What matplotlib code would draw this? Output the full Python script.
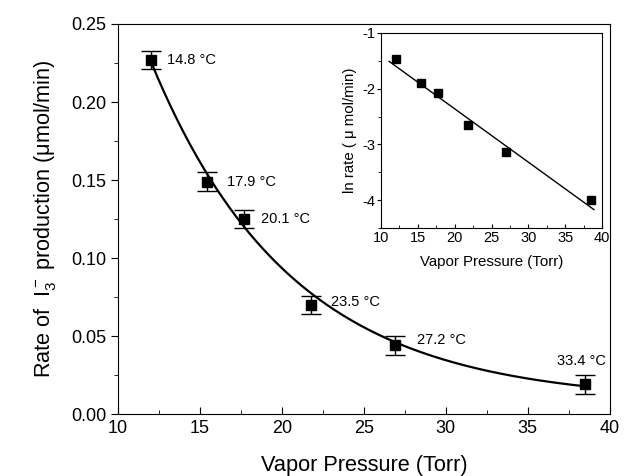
import numpy as np
import matplotlib
matplotlib.use('Agg')
import matplotlib.pyplot as plt

plt.rcParams['font.family'] = ['Liberation Sans', 'DejaVu Sans']
plt.rcParams['mathtext.fontset'] = 'custom'
plt.rcParams['mathtext.rm'] = 'Liberation Sans'
plt.rcParams['mathtext.it'] = 'Liberation Sans'

# data
pressure = [12.0, 15.4, 17.7, 21.8, 26.9, 38.5]
rate = [0.227, 0.149, 0.125, 0.070, 0.044, 0.019]
rate_err = [0.006, 0.006, 0.006, 0.006, 0.006, 0.006]
temps = ['14.8 °C', '17.9 °C', '20.1 °C', '23.5 °C', '27.2 °C', '33.4 °C']
label_offsets = [(12, 0), (15, 0), (12, 0), (14, 2), (16, 4), (-20, 17)]

ln_rate = [-1.47, -1.90, -2.08, -2.66, -3.14, -4.00]

# exponential fit (y = A*exp(-k*x) + c) and linear fit of ln rate
fit_A, fit_k, fit_c = 0.888, 0.117, 0.008
lin_slope, lin_icpt = -0.0957, -0.447

fig = plt.figure(figsize=(6.26, 4.76), dpi=100)
ax = fig.add_axes([0.1885, 0.130, 0.7855, 0.8196])

xs = np.linspace(12.0, 38.5, 200)
ax.plot(xs, fit_A*np.exp(-fit_k*xs) + fit_c, color='black', lw=1.6)
ax.errorbar(pressure, rate, yerr=rate_err, fmt='s', color='black', ms=7,
            capsize=7, elinewidth=1, capthick=1)
for x, y, t, off in zip(pressure, rate, temps, label_offsets):
    ax.annotate(t, (x, y), xytext=off, textcoords='offset points',
                fontsize=10.5, va='center', ha='left')

ax.set_xlim(10, 40)
ax.set_ylim(0, 0.25)
ax.set_xticks(np.arange(10, 41, 5))
ax.set_xticks(np.arange(12.5, 40, 5), minor=True)
ax.set_yticks(np.arange(0, 0.251, 0.05))
ax.set_yticks(np.arange(0.025, 0.25, 0.05), minor=True)
ax.set_yticklabels(['0.00', '0.05', '0.10', '0.15', '0.20', '0.25'])
ax.tick_params(axis='x', direction='in', length=5, labelsize=13, pad=4)
ax.tick_params(axis='x', which='minor', direction='in', length=3)
ax.tick_params(axis='y', direction='out', length=5, labelsize=13)
ax.tick_params(axis='y', which='minor', direction='out', length=3)
ax.set_xlabel('Vapor Pressure (Torr)', fontsize=15.7, labelpad=13)
ax.set_ylabel('Rate of  I$_3^-$ production (\u03bcmol/min)', fontsize=15.6, labelpad=9)

# inset
ins = fig.add_axes([0.6086, 0.521, 0.3531, 0.4097])
xl = np.array([11.1, 38.9])
ins.plot(xl, lin_slope*xl + lin_icpt, color='black', lw=1)
ins.plot(pressure, ln_rate, 's', color='black', ms=6)
ins.set_xlim(10, 40)
ins.set_ylim(-4.5, -1)
ins.set_xticks(np.arange(10, 41, 5))
ins.set_xticks(np.arange(12.5, 40, 5), minor=True)
ins.set_yticks([-4, -3, -2, -1])
ins.set_yticks([-4.5, -3.5, -2.5, -1.5], minor=True)
ins.set_yticklabels(['-4', '-3', '-2', '-1'])
ins.tick_params(axis='x', direction='in', length=3, labelsize=10.5, pad=2)
ins.tick_params(axis='x', which='minor', direction='in', length=2)
ins.tick_params(axis='y', direction='out', length=3, labelsize=10.5, pad=1)
ins.tick_params(axis='y', which='minor', direction='out', length=2)
ins.set_xlabel('Vapor Pressure (Torr)', fontsize=10.8, labelpad=7)
ins.set_ylabel('ln rate ( \u03bc mol/min)', fontsize=10.8, labelpad=4)

fig.savefig('out.png', dpi=100)
